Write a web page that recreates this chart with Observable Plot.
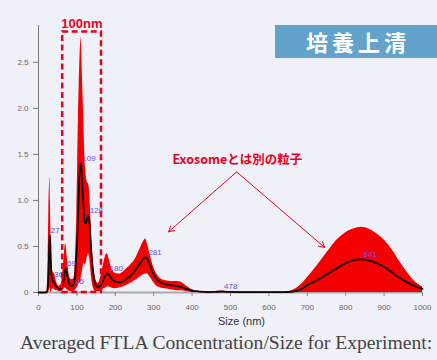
<!DOCTYPE html>
<html><head><meta charset="utf-8">
<script src="https://cdn.jsdelivr.net/npm/d3@7"></script>
<script src="https://cdn.jsdelivr.net/npm/@observablehq/plot@0.6"></script>
<style>
body{margin:0;background:#eff0f8;width:437px;height:360px;overflow:hidden;}
#wrap{position:relative;width:437px;height:360px;}
#chart{position:absolute;left:0;top:0;}
#title{position:absolute;left:275px;top:25px;width:162px;height:33px;background:#62a2cb;color:#fff;font-family:"Noto Sans CJK JP";font-size:22px;font-weight:700;letter-spacing:4px;text-indent:4px;text-align:center;line-height:33px;}
#cap{position:absolute;left:20px;top:332px;font-family:"Liberation Serif";font-size:19.6px;color:#444;white-space:nowrap;}
</style></head>
<body>
<div id="wrap">
<div id="chart"></div>
<div id="title">培養上清</div>
<div id="cap">Averaged FTLA Concentration/Size for Experiment:</div>
</div>
<script>
const sizes =     [0,15,22,25,27,29,30,31,33,35,38,42,46,50,55,60,64,67,69,71,74,78,82,87,92,95,97,100,102,104,106,108,110,111,113,115,117,119,121,124,127,130,133,136,140,143,146,149,155,160,165,170,175,179,184,190,200,210,220,230,240,252,262,272,279,284,290,298,308,318,330,345,360,372,385,400,420,440,460,478,495,520,560,600,640,660,680,700,720,740,760,780,800,820,841,860,880,900,920,940,960,980,1000];
const meanConc =  [0,0,0.005,0.1,0.35,0.58,0.62,0.5,0.25,0.15,0.12,0.1,0.07,0.05,0.04,0.05,0.1,0.18,0.24,0.26,0.2,0.12,0.08,0.07,0.09,0.15,0.3,0.5,0.67,0.95,1.22,1.35,1.4,1.38,1.25,1.08,0.95,0.82,0.76,0.75,0.8,0.84,0.75,0.53,0.32,0.2,0.12,0.08,0.06,0.07,0.1,0.15,0.19,0.21,0.19,0.15,0.12,0.11,0.12,0.15,0.18,0.24,0.3,0.36,0.38,0.36,0.3,0.21,0.14,0.11,0.09,0.08,0.07,0.06,0.04,0.02,0.01,0.005,0.006,0.01,0.006,0.004,0.003,0.003,0.004,0.008,0.03,0.08,0.12,0.17,0.22,0.27,0.32,0.35,0.36,0.35,0.32,0.28,0.22,0.16,0.11,0.07,0.04];
const upperConc = [0,0,0.01,0.35,0.9,1.2,1.25,1.0,0.5,0.3,0.22,0.2,0.13,0.08,0.07,0.1,0.25,0.4,0.5,0.53,0.42,0.25,0.16,0.14,0.15,0.25,0.45,0.9,1.4,1.9,2.25,2.55,2.72,2.77,2.55,2.25,2.0,1.7,1.45,1.28,1.2,1.18,1.1,0.85,0.5,0.3,0.2,0.14,0.1,0.13,0.22,0.32,0.4,0.42,0.36,0.27,0.21,0.2,0.22,0.26,0.3,0.36,0.45,0.54,0.58,0.52,0.42,0.3,0.2,0.15,0.13,0.12,0.12,0.11,0.07,0.03,0.01,0.005,0.01,0.015,0.01,0.005,0.004,0.004,0.006,0.02,0.07,0.16,0.26,0.37,0.48,0.58,0.65,0.69,0.71,0.69,0.64,0.57,0.47,0.34,0.22,0.12,0.06];
const lowerConc = [0,0,0,0,0,0.05,0.05,0.02,0,0.03,0.04,0.03,0.02,0.02,0.01,0.01,0.02,0.04,0.05,0.05,0.03,0.02,0.01,0.01,0.01,0.02,0.03,0.05,0.06,0.08,0.12,0.1,0.1,0.15,0.2,0.25,0.3,0.32,0.3,0.32,0.38,0.42,0.38,0.25,0.1,0.05,0.02,0.01,0.01,0.01,0.02,0.04,0.05,0.06,0.06,0.05,0.04,0.05,0.06,0.08,0.1,0.13,0.16,0.19,0.2,0.2,0.17,0.12,0.07,0.05,0.04,0.03,0.02,0.02,0.01,0,0,0,0,0,0,0,0,0,0,0,0,0,0,0,0,0,0,0,0,0,0,0,0,0,0,0,0];

const peakSizes = [27,36,69,90,109,128,180,281,478,841];
const peakLabels = ["27","36","69","95","109","128","180","281","478","841"];
const peakHeights = [0.62,0.14,0.26,0.07,1.40,0.84,0.21,0.38,0.01,0.36];

const xTicks = [0,100,200,300,400,500,600,700,800,900,1000];
const yTicks = [0,0.5,1.0,1.5,2.0,2.5];
const yTickLabels = ["0","0.5","1.0","1.5","2.0","2.5"];

const boxRange = [63,164,2.83];
const boxLabel = "100nm";
const noteText = "Exosomeとは別の粒子";
const arrowStarts = [[516,1.31],[516,1.31]];
const arrowEnds = [[339,0.66],[745,0.49]];

const rows = sizes.map((s,i)=>({size:s, mean:meanConc[i], upper:upperConc[i], lower:lowerConc[i]}));
const peaks = peakSizes.map((s,i)=>({size:s, label:peakLabels[i], h:peakHeights[i]}));
const arrows = arrowStarts.map((a,i)=>({x1:a[0],y1:a[1],x2:arrowEnds[i][0],y2:arrowEnds[i][1]}));

const RED = "#f50000";
const plot = Plot.plot({
  width: 437, height: 330,
  marginLeft: 38, marginRight: 15, marginTop: 25, marginBottom: 38,
  style: {background: "transparent", overflow: "visible"},
  x: {domain: [0,1000]},
  y: {domain: [0,2.9]},
  marks: [
    Plot.ruleY([0], {stroke:"#aaa", strokeWidth:2}),
    Plot.ruleX([0], {y1:0, y2:2.9, stroke:"#777", strokeWidth:1}),
    Plot.axisY({ticks: yTicks, tickFormat: d=>yTickLabels[yTicks.indexOf(d)], tickSize:5, tickPadding:5, fontSize:8, fill:"#666", stroke:"#777", fontFamily:"Liberation Sans", label:null}),
    Plot.axisX({ticks: xTicks, tickFormat: d=>String(d), tickSize:4, tickPadding:8, fontSize:8, fill:"#666", stroke:"#888", fontFamily:"Liberation Sans", label:null}),
    Plot.text(["Size (nm)"], {frameAnchor:"bottom", dx:11, dy:32, fontSize:11, fill:"#333", fontFamily:"Liberation Sans"}),
    Plot.areaY(rows, {x:"size", y1:"lower", y2:"upper", fill:RED, curve:"monotone-x"}),
    Plot.line(rows, {x:"size", y:"mean", stroke:"#150000", strokeWidth:1.8, curve:"monotone-x"}),
    Plot.text(peaks, {x:"size", y:"h", text:"label", textAnchor:"start", dx:2, dy:-5, fontSize:8, fill:"#6a50e0", fontFamily:"Liberation Sans"}),
    Plot.rect([boxRange], {x1:d=>d[0], x2:d=>d[1], y1:0, y2:d=>d[2], fill:"none", stroke:"#e8001c", strokeWidth:2.5, strokeDasharray:"6,3.5", clip:false}),
    Plot.text([boxLabel], {x:113, y:2.92, fontSize:13, fontWeight:"bold", fill:"#e8001c", fontFamily:"Liberation Sans", clip:false}),
    Plot.text([noteText], {x:518, y:1.434, fontSize:12.5, fontWeight:"bold", fill:"#e8001c", fontFamily:"Noto Sans CJK JP"}),
    Plot.arrow(arrows, {x1:"x1", y1:"y1", x2:"x2", y2:"y2", stroke:"#e8001c", strokeWidth:1, headLength:9, insetStart:0, insetEnd:0})
  ]
});
document.getElementById("chart").appendChild(plot);
</script>
</body></html>
